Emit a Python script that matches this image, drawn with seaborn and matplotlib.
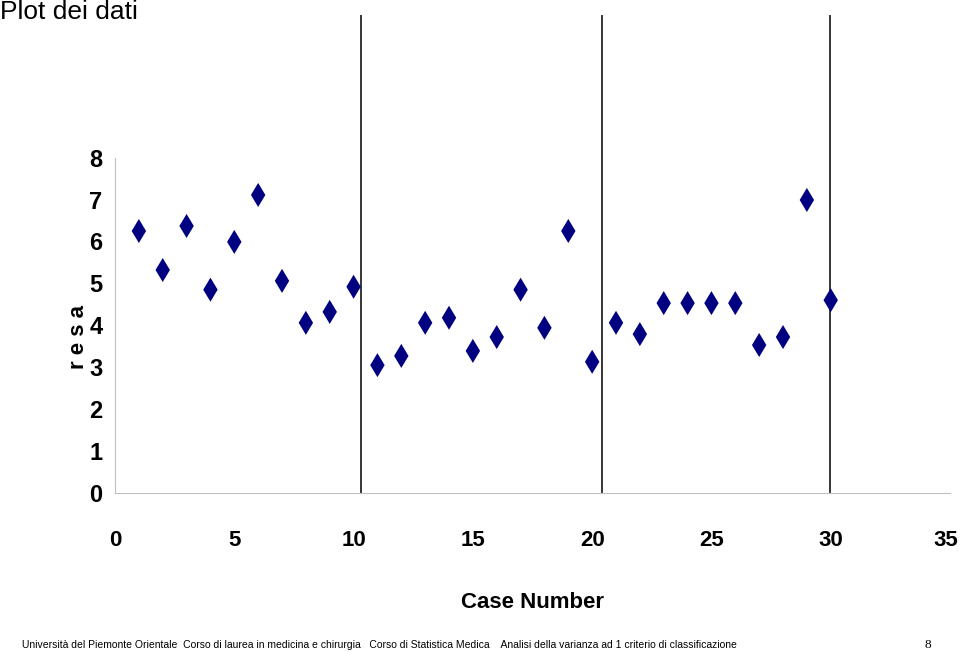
import numpy as np
import pandas as pd
import seaborn as sns
import matplotlib.pyplot as plt
from matplotlib.transforms import ScaledTranslation

# dati
case_number = list(range(1, 31))
resa = [6.25, 5.32, 6.37, 4.85, 5.99, 7.11, 5.06, 4.06, 4.32, 4.92,
        3.05, 3.27, 4.06, 4.18, 3.39, 3.72, 4.85, 3.94, 6.25, 3.13,
        4.06, 3.79, 4.53, 4.53, 4.53, 4.53, 3.53, 3.72, 6.99, 4.60]
separatori = [10.3, 20.4, 29.97]   # linee di separazione dei gruppi
x_ticks = [0, 5, 10, 15, 20, 25, 30, 35]
y_ticks = [0, 1, 2, 3, 4, 5, 6, 7, 8]

df = pd.DataFrame({'Case Number': case_number, 'resa': resa})

sns.set_style('white')
plt.rcParams['font.family'] = ['Liberation Sans Narrow', 'Liberation Sans', 'DejaVu Sans']
plt.rcParams['text.color'] = 'black'
plt.rcParams['axes.labelcolor'] = 'black'
plt.rcParams['xtick.labelcolor'] = 'black'
plt.rcParams['ytick.labelcolor'] = 'black'

fig = plt.figure(figsize=(9.6, 6.52), dpi=100)
ax = fig.add_axes([0.1198, 0.2439, 0.8698, 0.7393])

sns.scatterplot(data=df, x='Case Number', y='resa', marker='d', s=150,
                color='#000080', edgecolor='none', linewidth=0, ax=ax, zorder=3)

# linee verticali tra i gruppi
ax.vlines(separatori, 0, 11.4, colors='black', linewidth=1.1, zorder=2)

ax.set_xlim(0, 35)
ax.set_ylim(0, 11.5)
ax.set_xticks(x_ticks)
ax.set_yticks(y_ticks)

for s in ['top', 'right']:
    ax.spines[s].set_visible(False)
ax.spines['left'].set_bounds(0, 8)
ax.spines['left'].set_color('#c0c0c0')
ax.spines['bottom'].set_color('#c0c0c0')

ax.tick_params(axis='x', direction='inout', length=14, width=1, color='#c0c0c0',
               pad=20, labelsize=16)
ax.tick_params(axis='y', direction='out', length=4, width=1, color='#c0c0c0',
               pad=5, labelsize=17)
for lab in ax.get_xticklabels() + ax.get_yticklabels():
    lab.set_fontweight('bold')
# l'ultima etichetta "35" sta sul bordo: spostala appena a sinistra
last = ax.get_xticklabels()[-1]
last.set_transform(last.get_transform() + ScaledTranslation(-3 / 72, 0, fig.dpi_scale_trans))

ax.set_xlabel('Case Number', fontsize=16, fontweight='bold', labelpad=29)
ax.set_ylabel('r e s a', fontsize=16, fontweight='bold')
ax.yaxis.set_label_coords(-0.031, 0.324)

fig.text(0.0, 0.982, 'Plot dei dati', fontsize=19, family=['Liberation Sans', 'DejaVu Sans'],
         ha='left', va='center')
fig.text(0.023, 0.003, 'Università del Piemonte Orientale  Corso di laurea in medicina e chirurgia   '
         'Corso di Statistica Medica    Analisi della varianza ad 1 criterio di classificazione',
         fontsize=7.5, ha='left', va='bottom')
fig.text(0.963, 0.002, '8', fontsize=9.5, family=['Liberation Serif', 'DejaVu Serif'],
         ha='left', va='bottom')

plt.savefig('out.png', dpi=100)
